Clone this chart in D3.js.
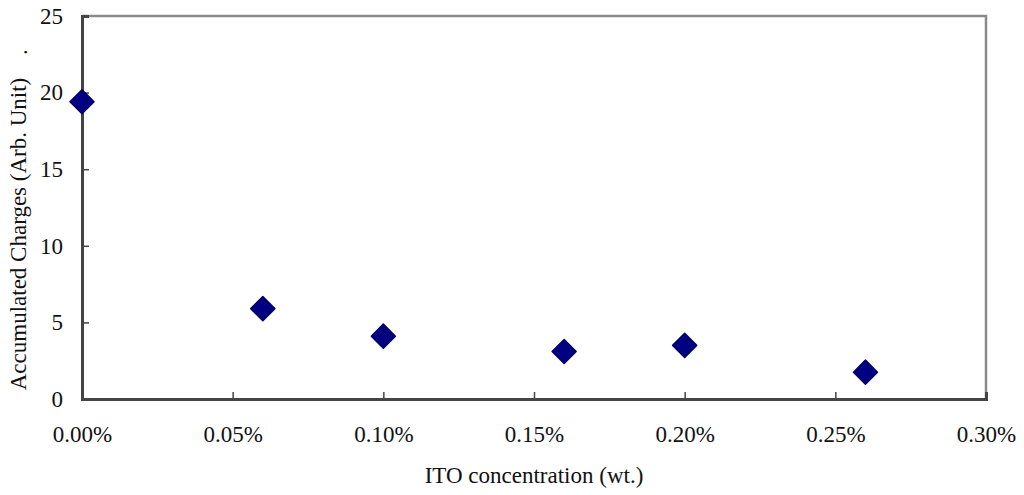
<!DOCTYPE html>
<html>
<head>
<meta charset="utf-8">
<script src="https://cdn.jsdelivr.net/npm/d3@7/dist/d3.min.js"></script>
<style>
html,body{margin:0;padding:0;background:#fff;}
svg{display:block;}
</style>
</head>
<body>
<svg id="chart" width="1024" height="495"></svg>
<script>
const concentrations = [0.0000, 0.0006, 0.0010, 0.0016, 0.0020, 0.0026];
const charges = [19.4, 5.9, 4.1, 3.1, 3.5, 1.75];
const xTicks = [0, 0.0005, 0.0010, 0.0015, 0.0020, 0.0025, 0.0030];
const yTicks = [0, 5, 10, 15, 20, 25];
const xTitle = "ITO concentration (wt.)";
const yTitle = "Accumulated Charges (Arb. Unit)";

const FONT = "Liberation Serif";
const FS = 23;
const svg = d3.select("#chart");
const L = 82, R = 986, T = 16, B = 399;

const x = d3.scaleLinear().domain([0, 0.003]).range([L, R]);
const y = d3.scaleLinear().domain([0, 25]).range([B, T]);

svg.append("rect").attr("width",1024).attr("height",495).attr("fill","#fff");

// frame (top/right)
svg.append("path")
  .attr("d", `M${L},${T}H${R}V${B}`)
  .attr("fill","none").attr("stroke","#8a8a8a").attr("stroke-width",2.5);

// x axis
const xAxis = d3.axisBottom(x).tickValues(xTicks).tickSize(-7).tickPadding(27)
  .tickFormat(d3.format(".2%"));
const gx = svg.append("g").attr("transform",`translate(0,${B})`).call(xAxis);
gx.attr("font-family", FONT).attr("font-size", FS);
gx.select(".domain").attr("stroke","#444").attr("stroke-width",3);
gx.selectAll(".tick line").attr("stroke","#444").attr("stroke-width",1.5);
gx.selectAll(".tick text").attr("fill","#111");

// y axis
const yAxis = d3.axisLeft(y).tickValues(yTicks).tickSize(-7).tickPadding(19)
  .tickFormat(d3.format("d"));
const gy = svg.append("g").attr("transform",`translate(${L},0)`).call(yAxis);
gy.attr("font-family", FONT).attr("font-size", FS);
gy.select(".domain").attr("stroke","#444").attr("stroke-width",3);
gy.selectAll(".tick line").attr("stroke","#444").attr("stroke-width",1.5);
gy.selectAll(".tick text").attr("fill","#111");

// points
const sym = d3.symbol().type(d3.symbolSquare).size(290);
svg.append("g").selectAll("path")
  .data(concentrations.map((c,i)=>({c, v:charges[i]})))
  .join("path")
  .attr("d", sym)
  .attr("transform", d => `translate(${x(d.c)},${y(d.v)}) rotate(45)`)
  .attr("fill","#000080")
  .attr("stroke","#00006a").attr("stroke-width",1.5).attr("stroke-linejoin","round");

// titles
svg.append("text").attr("x",(L+R)/2).attr("y",483)
  .attr("text-anchor","middle").attr("font-family",FONT).attr("font-size",FS)
  .attr("fill","#111").text(xTitle);
svg.append("text").attr("transform","translate(26,234) rotate(-90)")
  .attr("text-anchor","middle").attr("font-family",FONT).attr("font-size",FS)
  .attr("fill","#111").text(yTitle);
svg.append("text").attr("transform","translate(27,52) rotate(-90)")
  .attr("text-anchor","middle").attr("font-family",FONT).attr("font-size",FS)
  .attr("fill","#111").text(".");
</script>
</body>
</html>
